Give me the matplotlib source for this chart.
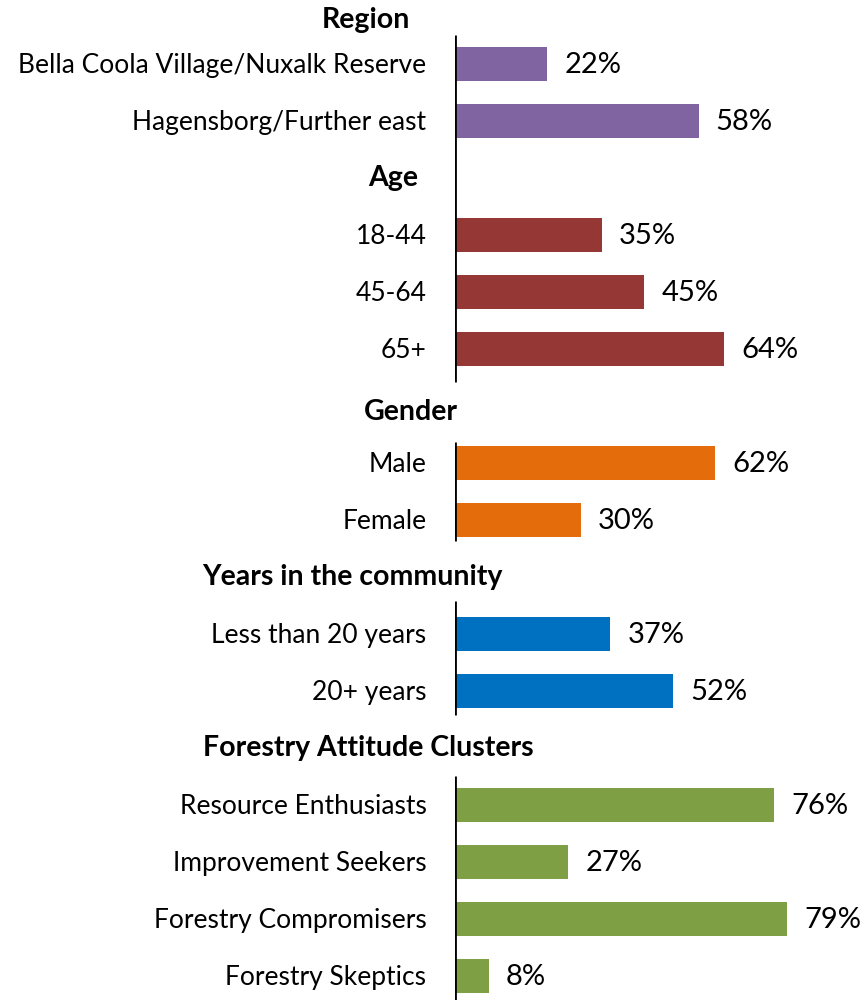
import matplotlib
matplotlib.use("Agg")
import matplotlib.pyplot as plt

plt.rcParams['font.family'] = ['Lato', 'DejaVu Sans']

# groups of the chart: header, labels, values, colour
groups = ["Region", "Age", "Gender", "Years in the community", "Forestry Attitude Clusters"]
region_labels = ["Bella Coola Village/Nuxalk Reserve", "Hagensborg/Further east"]
region_vals = [22, 58]
age_labels = ["18-44", "45-64", "65+"]
age_vals = [35, 45, 64]
gender_labels = ["Male", "Female"]
gender_vals = [62, 30]
years_labels = ["Less than 20 years", "20+ years"]
years_vals = [37, 52]
cluster_labels = ["Resource Enthusiasts", "Improvement Seekers", "Forestry Compromisers", "Forestry Skeptics"]
cluster_vals = [76, 27, 79, 8]

colors = ["#8064A2", "#953735", "#E46C0A", "#0070C0", "#7F9F45"]

all_labels = [region_labels, age_labels, gender_labels, years_labels, cluster_labels]
all_vals = [region_vals, age_vals, gender_vals, years_vals, cluster_vals]

fig = plt.figure(figsize=(8.63, 10), dpi=100)
ax = fig.add_axes([455 / 863, 0, 1 - 455 / 863, 1])
ax.set_xlim(0, 97.14)
ax.set_ylim(16.42, -1.123)
ax.axis("off")

# header positions (x in axis data units, relative to the bar origin), y rows
header_x = [-10.7, -8.8, 0.7, 11.4, 18.8]
header_y = [-0.77, 2.0, 6.1, 9.0, 12.0]
axis_spans = [(-0.51, 5.58), None, (6.63, 8.37), (9.42, 11.42), (12.49, 16.5)]

row = 0
for g, (labels, vals) in enumerate(zip(all_labels, all_vals)):
    if g > 0:
        row += 1  # header row
    ax.text(header_x[g], header_y[g], groups[g], ha="right", va="center",
            fontsize=20.5, fontweight="bold", clip_on=False)
    for lab, v in zip(labels, vals):
        ax.barh(row, v, height=0.6, color=colors[g])
        ax.text(-6.8, row + 0.02, lab, ha="right", va="center", fontsize=19, clip_on=False)
        ax.text(v + 4.1, row + 0.02, f"{v}%", ha="left", va="center", fontsize=21)
        row += 1
    if axis_spans[g] is not None:
        ax.vlines(0, axis_spans[g][0], axis_spans[g][1], color="black", lw=2)

fig.savefig("out.png", dpi=100)
